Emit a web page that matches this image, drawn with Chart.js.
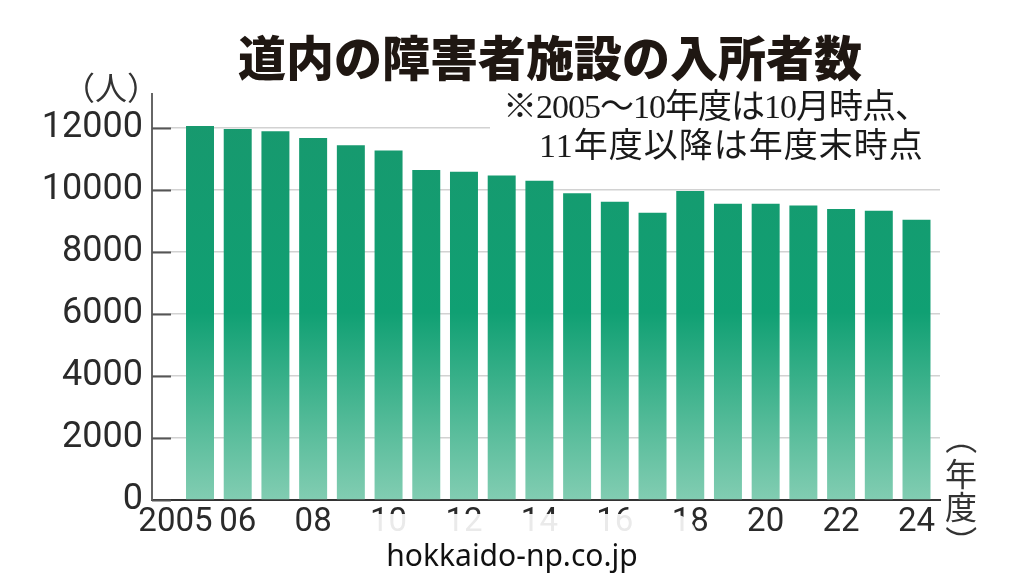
<!DOCTYPE html>
<html lang="ja">
<head>
<meta charset="utf-8">
<title>道内の障害者施設の入所者数</title>
<script src="https://cdn.jsdelivr.net/npm/chart.js@4.4.1/dist/chart.umd.min.js"></script>
<style>
  html, body { margin: 0; padding: 0; background: #fff; }
  #wrap { width: 1024px; height: 576px; position: relative; }
</style>
</head>
<body>
<div id="wrap"><canvas id="myChart" width="1024" height="576"></canvas></div>
<script>
// data
let years = [2005, 2006, 2007, 2008, 2009, 2010, 2011, 2012, 2013, 2014,
             2015, 2016, 2017, 2018, 2019, 2020, 2021, 2022, 2023, 2024];
let residents = [12070, 11970, 11900, 11680, 11450, 11280, 10650, 10590, 10470, 10300,
                 9900, 9620, 9270, 9970, 9560, 9560, 9500, 9390, 9330, 9040];
let tickYears = [2005, 2006, 2008, 2010, 2012, 2014, 2016, 2018, 2020, 2022, 2024];
let tickLabels = ['2005', '06', '08', '10', '12', '14', '16', '18', '20', '22', '24'];
let yTicks = [0, 2000, 4000, 6000, 8000, 10000, 12000];

let titleText = '道内の障害者施設の入所者数';
let noteLines = ['※2005～10年度は10月時点、', '11年度以降は年度末時点'];
let unitY = '（人）';
let unitX = ['（', '年', '度', '）'];
let credit = 'hokkaido-np.co.jp';

function barFill(context) {
  const chart = context.chart;
  const area = chart.chartArea;
  if (!area) return '#0fa072';
  const top = chart.scales.y.getPixelForValue(12100);
  const g = chart.ctx.createLinearGradient(0, top, 0, area.bottom);
  g.addColorStop(0, '#17996e');
  g.addColorStop(0.5, '#10a073');
  g.addColorStop(1, '#82cdb2');
  return g;
}

// white box behind the note, drawn over the grid
const noteBox = {
  id: 'noteBox',
  beforeDatasetsDraw(chart) {
    const ctx = chart.ctx;
    ctx.save();
    ctx.fillStyle = '#fff';
    ctx.fillRect(490, 88, 470, 78);
    // dark tick stubs on the left of the grid
    const y = chart.scales.y;
    ctx.strokeStyle = '#555';
    ctx.lineWidth = 2;
    yTicks.forEach(function (v) {
      const py = Math.round(y.getPixelForValue(v)) + 0.5;
      ctx.beginPath();
      ctx.moveTo(chart.chartArea.left, py);
      ctx.lineTo(chart.chartArea.left + 19, py);
      ctx.stroke();
    });
    ctx.restore();
  }
};

// draw a bracket turned a quarter, its ink centred on (x, y)
function turnedChar(ctx, c, x, y) {
  ctx.save();
  ctx.textAlign = 'left';
  ctx.textBaseline = 'alphabetic';
  const m = ctx.measureText(c);
  const cx = (m.actualBoundingBoxRight - m.actualBoundingBoxLeft) / 2;
  const cy = (m.actualBoundingBoxDescent - m.actualBoundingBoxAscent) / 2;
  ctx.translate(x, y);
  ctx.rotate(Math.PI / 2);
  ctx.fillText(c, -cx, -cy);
  ctx.restore();
}

const texts = {
  id: 'texts',
  afterDraw(chart) {
    const ctx = chart.ctx;
    ctx.save();

    ctx.fillStyle = '#1f1712';
    ctx.font = '900 48px "Noto Sans CJK JP"';
    ctx.textAlign = 'center';
    ctx.textBaseline = 'middle';
    ctx.fillText(titleText, 550, 58);

    ctx.fillStyle = '#1a1a1a';
    ctx.font = '34px "Liberation Serif", "Noto Sans CJK JP"';
    ctx.textAlign = 'left';
    ctx.letterSpacing = '-1px';
    ctx.fillText(noteLines[0], 503, 109);
    ctx.letterSpacing = '1px';
    ctx.fillText(noteLines[1], 539, 148);
    ctx.letterSpacing = '0px';

    ctx.fillStyle = '#333';
    ctx.font = '32px "Noto Sans CJK JP"';
    ctx.textAlign = 'center';
    ctx.fillText(unitY, 111, 88);

    // vertical unit label
    ctx.font = '32px "Noto Sans CJK JP"';
    turnedChar(ctx, unitX[0], 961, 449);
    ctx.fillText(unitX[1], 961, 474);
    ctx.fillText(unitX[2], 961, 507);
    turnedChar(ctx, unitX[3], 961, 531);

    // credit badge
    ctx.fillStyle = 'rgba(255,255,255,0.9)';
    ctx.beginPath();
    ctx.roundRect(328, 514, 370, 90, 26);
    ctx.fill();
    ctx.fillStyle = '#111';
    ctx.font = '30px "Noto Sans"';
    ctx.fillText(credit, 512, 557);

    ctx.restore();
  }
};

const ctx = document.getElementById('myChart').getContext('2d');
let chart = new Chart(ctx, {
  type: 'bar',
  data: {
    datasets: [{
      data: years.map(function (yr, i) { return { x: yr, y: residents[i] }; }),
      backgroundColor: barFill,
      borderWidth: 0,
      categoryPercentage: 1,
      barPercentage: 0.742
    }]
  },
  options: {
    responsive: false,
    animation: false,
    devicePixelRatio: 1,
    layout: { padding: { top: 94, right: 84, left: 0, bottom: 0 } },
    plugins: {
      legend: { display: false },
      tooltip: { enabled: false },
      title: { display: false }
    },
    scales: {
      x: {
        type: 'linear',
        offset: false,
        min: 2003.727,
        max: 2024.623,
        grid: { display: false, drawTicks: false },
        border: { display: true, color: '#333', width: 2 },
        afterBuildTicks: function (scale) {
          scale.ticks = tickYears.map(function (v) { return { value: v }; });
        },
        afterFit: function (scale) { scale.height = 76; },
        ticks: {
          autoSkip: false,
          maxRotation: 0,
          padding: 3,
          color: '#2a2a2a',
          font: { family: 'Roboto', size: 33 },
          callback: function (value) {
            const i = tickYears.indexOf(value);
            if (i < 0) return '';
            return i === 0 ? tickLabels[i] + '      ' : tickLabels[i];
          }
        }
      },
      y: {
        min: 0,
        max: 13100,
        grid: { color: '#d2d2d2', lineWidth: 1.5, drawTicks: false },
        border: { display: true, color: '#666', width: 2 },
        afterBuildTicks: function (scale) {
          scale.ticks = yTicks.map(function (v) { return { value: v }; });
        },
        afterFit: function (scale) { scale.width = 152; },
        ticks: {
          padding: 9,
          color: '#2a2a2a',
          font: { family: 'Roboto', size: 36 },
          callback: function (value) { return String(value); }
        }
      }
    }
  },
  plugins: [noteBox, texts]
});
</script>
</body>
</html>
